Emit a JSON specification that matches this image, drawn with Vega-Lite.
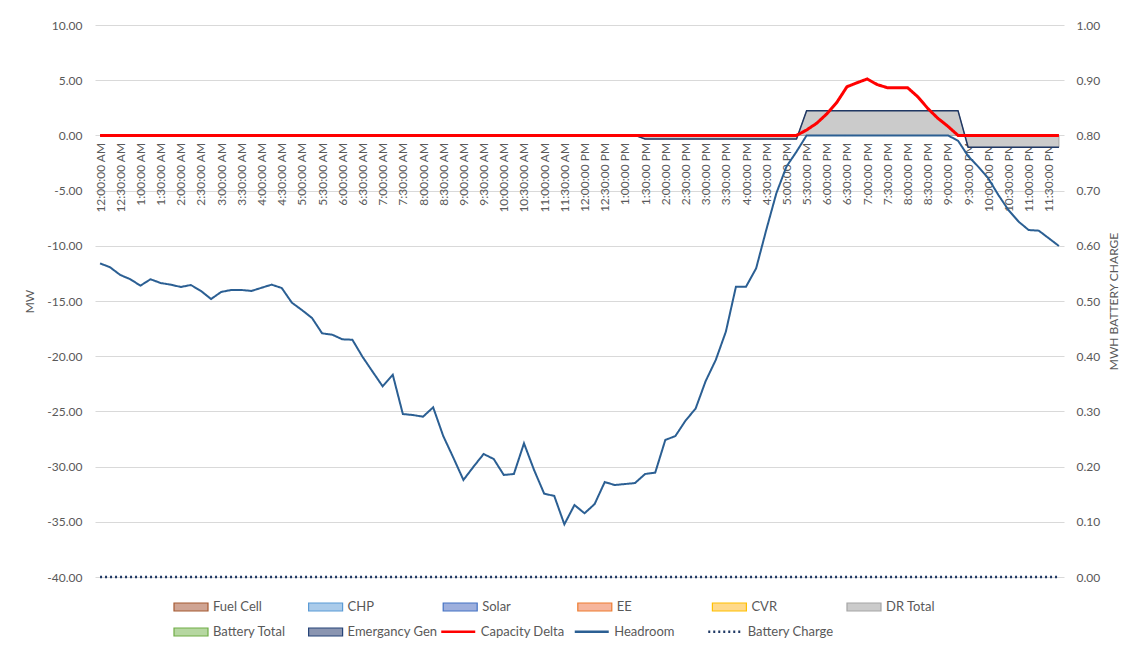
{
"$schema":"https://vega.github.io/schema/vega-lite/v6.json",
"width":969,"height":552,
"autosize":{"type":"none"},
"padding":{"left":95,"top":25,"right":69,"bottom":69},
"background":"#ffffff",
"config":{
 "font":"Lato",
 "locale":{"number":{"decimal":".","thousands":",","grouping":[3],"currency":["$",""],"minus":"-"}},
 "view":{"stroke":null},
 "axis":{"labelFont":"Lato","labelFontSize":12,"labelColor":"#595959","titleFont":"Lato","titleFontSize":12,"titleFontWeight":"normal","titleColor":"#595959","ticks":false,"domain":false},
 "legend":{"labelFont":"Lato","labelFontSize":13,"labelColor":"#595959","padding":0,"titlePadding":0}
},
"data":{"values":[
{"t":"12:00:00 AM","dr":0,"cd":0,"hr":-11.59,"bc":0},
{"t":"12:15:00 AM","dr":0,"cd":0,"hr":-11.95,"bc":0},
{"t":"12:30:00 AM","dr":0,"cd":0,"hr":-12.64,"bc":0},
{"t":"12:45:00 AM","dr":0,"cd":0,"hr":-13.03,"bc":0},
{"t":"1:00:00 AM","dr":0,"cd":0,"hr":-13.61,"bc":0},
{"t":"1:15:00 AM","dr":0,"cd":0,"hr":-13.03,"bc":0},
{"t":"1:30:00 AM","dr":0,"cd":0,"hr":-13.37,"bc":0},
{"t":"1:45:00 AM","dr":0,"cd":0,"hr":-13.52,"bc":0},
{"t":"2:00:00 AM","dr":0,"cd":0,"hr":-13.73,"bc":0},
{"t":"2:15:00 AM","dr":0,"cd":0,"hr":-13.55,"bc":0},
{"t":"2:30:00 AM","dr":0,"cd":0,"hr":-14.09,"bc":0},
{"t":"2:45:00 AM","dr":0,"cd":0,"hr":-14.82,"bc":0},
{"t":"3:00:00 AM","dr":0,"cd":0,"hr":-14.18,"bc":0},
{"t":"3:15:00 AM","dr":0,"cd":0,"hr":-14.00,"bc":0},
{"t":"3:30:00 AM","dr":0,"cd":0,"hr":-14.00,"bc":0},
{"t":"3:45:00 AM","dr":0,"cd":0,"hr":-14.09,"bc":0},
{"t":"4:00:00 AM","dr":0,"cd":0,"hr":-13.80,"bc":0},
{"t":"4:15:00 AM","dr":0,"cd":0,"hr":-13.52,"bc":0},
{"t":"4:30:00 AM","dr":0,"cd":0,"hr":-13.82,"bc":0},
{"t":"4:45:00 AM","dr":0,"cd":0,"hr":-15.15,"bc":0},
{"t":"5:00:00 AM","dr":0,"cd":0,"hr":-15.82,"bc":0},
{"t":"5:15:00 AM","dr":0,"cd":0,"hr":-16.54,"bc":0},
{"t":"5:30:00 AM","dr":0,"cd":0,"hr":-17.93,"bc":0},
{"t":"5:45:00 AM","dr":0,"cd":0,"hr":-18.05,"bc":0},
{"t":"6:00:00 AM","dr":0,"cd":0,"hr":-18.47,"bc":0},
{"t":"6:15:00 AM","dr":0,"cd":0,"hr":-18.51,"bc":0},
{"t":"6:30:00 AM","dr":0,"cd":0,"hr":-20.05,"bc":0},
{"t":"6:45:00 AM","dr":0,"cd":0,"hr":-21.40,"bc":0},
{"t":"7:00:00 AM","dr":0,"cd":0,"hr":-22.73,"bc":0},
{"t":"7:15:00 AM","dr":0,"cd":0,"hr":-21.68,"bc":0},
{"t":"7:30:00 AM","dr":0,"cd":0,"hr":-25.24,"bc":0},
{"t":"7:45:00 AM","dr":0,"cd":0,"hr":-25.33,"bc":0},
{"t":"8:00:00 AM","dr":0,"cd":0,"hr":-25.48,"bc":0},
{"t":"8:15:00 AM","dr":0,"cd":0,"hr":-24.63,"bc":0},
{"t":"8:30:00 AM","dr":0,"cd":0,"hr":-27.23,"bc":0},
{"t":"8:45:00 AM","dr":0,"cd":0,"hr":-29.19,"bc":0},
{"t":"9:00:00 AM","dr":0,"cd":0,"hr":-31.21,"bc":0},
{"t":"9:15:00 AM","dr":0,"cd":0,"hr":-30.01,"bc":0},
{"t":"9:30:00 AM","dr":0,"cd":0,"hr":-28.86,"bc":0},
{"t":"9:45:00 AM","dr":0,"cd":0,"hr":-29.31,"bc":0},
{"t":"10:00:00 AM","dr":0,"cd":0,"hr":-30.76,"bc":0},
{"t":"10:15:00 AM","dr":0,"cd":0,"hr":-30.67,"bc":0},
{"t":"10:30:00 AM","dr":0,"cd":0,"hr":-27.89,"bc":0},
{"t":"10:45:00 AM","dr":0,"cd":0,"hr":-30.31,"bc":0},
{"t":"11:00:00 AM","dr":0,"cd":0,"hr":-32.45,"bc":0},
{"t":"11:15:00 AM","dr":0,"cd":0,"hr":-32.66,"bc":0},
{"t":"11:30:00 AM","dr":0,"cd":0,"hr":-35.23,"bc":0},
{"t":"11:45:00 AM","dr":0,"cd":0,"hr":-33.48,"bc":0},
{"t":"12:00:00 PM","dr":0,"cd":0,"hr":-34.23,"bc":0},
{"t":"12:15:00 PM","dr":0,"cd":0,"hr":-33.39,"bc":0},
{"t":"12:30:00 PM","dr":0,"cd":0,"hr":-31.40,"bc":0},
{"t":"12:45:00 PM","dr":0,"cd":0,"hr":-31.67,"bc":0},
{"t":"1:00:00 PM","dr":0,"cd":0,"hr":-31.58,"bc":0},
{"t":"1:15:00 PM","dr":0,"cd":0,"hr":-31.49,"bc":0},
{"t":"1:30:00 PM","dr":-0.33,"cd":0,"hr":-30.67,"bc":0},
{"t":"1:45:00 PM","dr":-0.33,"cd":0,"hr":-30.55,"bc":0},
{"t":"2:00:00 PM","dr":-0.33,"cd":0,"hr":-27.59,"bc":0},
{"t":"2:15:00 PM","dr":-0.33,"cd":0,"hr":-27.23,"bc":0},
{"t":"2:30:00 PM","dr":-0.33,"cd":0,"hr":-25.84,"bc":0},
{"t":"2:45:00 PM","dr":-0.33,"cd":0,"hr":-24.75,"bc":0},
{"t":"3:00:00 PM","dr":-0.33,"cd":0,"hr":-22.25,"bc":0},
{"t":"3:15:00 PM","dr":-0.33,"cd":0,"hr":-20.34,"bc":0},
{"t":"3:30:00 PM","dr":-0.33,"cd":0,"hr":-17.78,"bc":0},
{"t":"3:45:00 PM","dr":-0.33,"cd":0,"hr":-13.70,"bc":0},
{"t":"4:00:00 PM","dr":-0.33,"cd":0,"hr":-13.70,"bc":0},
{"t":"4:15:00 PM","dr":-0.33,"cd":0,"hr":-12.04,"bc":0},
{"t":"4:30:00 PM","dr":-0.33,"cd":0,"hr":-8.57,"bc":0},
{"t":"4:45:00 PM","dr":-0.33,"cd":0,"hr":-5.25,"bc":0},
{"t":"5:00:00 PM","dr":-0.33,"cd":0,"hr":-2.83,"bc":0},
{"t":"5:15:00 PM","dr":-0.33,"cd":0,"hr":-1.47,"bc":0},
{"t":"5:30:00 PM","dr":2.24,"cd":0.49,"hr":0,"bc":0},
{"t":"5:45:00 PM","dr":2.24,"cd":1.10,"hr":0,"bc":0},
{"t":"6:00:00 PM","dr":2.24,"cd":1.95,"hr":0,"bc":0},
{"t":"6:15:00 PM","dr":2.24,"cd":3.00,"hr":0,"bc":0},
{"t":"6:30:00 PM","dr":2.24,"cd":4.41,"hr":0,"bc":0},
{"t":"6:45:00 PM","dr":2.24,"cd":4.77,"hr":0,"bc":0},
{"t":"7:00:00 PM","dr":2.24,"cd":5.11,"hr":0,"bc":0},
{"t":"7:15:00 PM","dr":2.24,"cd":4.60,"hr":0,"bc":0},
{"t":"7:30:00 PM","dr":2.24,"cd":4.32,"hr":0,"bc":0},
{"t":"7:45:00 PM","dr":2.24,"cd":4.32,"hr":0,"bc":0},
{"t":"8:00:00 PM","dr":2.24,"cd":4.32,"hr":0,"bc":0},
{"t":"8:15:00 PM","dr":2.24,"cd":3.51,"hr":0,"bc":0},
{"t":"8:30:00 PM","dr":2.24,"cd":2.45,"hr":0,"bc":0},
{"t":"8:45:00 PM","dr":2.24,"cd":1.55,"hr":0,"bc":0},
{"t":"9:00:00 PM","dr":2.24,"cd":0.82,"hr":0,"bc":0},
{"t":"9:15:00 PM","dr":2.24,"cd":0,"hr":-0.48,"bc":0},
{"t":"9:30:00 PM","dr":-1.08,"cd":0,"hr":-1.87,"bc":0},
{"t":"9:45:00 PM","dr":-1.08,"cd":0,"hr":-2.83,"bc":0},
{"t":"10:00:00 PM","dr":-1.08,"cd":0,"hr":-3.89,"bc":0},
{"t":"10:15:00 PM","dr":-1.08,"cd":0,"hr":-5.40,"bc":0},
{"t":"10:30:00 PM","dr":-1.08,"cd":0,"hr":-6.76,"bc":0},
{"t":"10:45:00 PM","dr":-1.08,"cd":0,"hr":-7.81,"bc":0},
{"t":"11:00:00 PM","dr":-1.08,"cd":0,"hr":-8.57,"bc":0},
{"t":"11:15:00 PM","dr":-1.08,"cd":0,"hr":-8.63,"bc":0},
{"t":"11:30:00 PM","dr":-1.08,"cd":0,"hr":-9.32,"bc":0},
{"t":"11:45:00 PM","dr":-1.08,"cd":0,"hr":-10.02,"bc":0}
]},
"encoding":{
 "x":{"field":"t","type":"ordinal","sort":null,"scale":{"type":"point","padding":0.5},
  "axis":{"title":null,"labelAngle":-90,"offset":-441.6,"labelPadding":7,"labelOverlap":false,"labelBound":false,"grid":false,
   "values":["12:00:00 AM","12:30:00 AM","1:00:00 AM","1:30:00 AM","2:00:00 AM","2:30:00 AM","3:00:00 AM","3:30:00 AM","4:00:00 AM","4:30:00 AM","5:00:00 AM","5:30:00 AM","6:00:00 AM","6:30:00 AM","7:00:00 AM","7:30:00 AM","8:00:00 AM","8:30:00 AM","9:00:00 AM","9:30:00 AM","10:00:00 AM","10:30:00 AM","11:00:00 AM","11:30:00 AM","12:00:00 PM","12:30:00 PM","1:00:00 PM","1:30:00 PM","2:00:00 PM","2:30:00 PM","3:00:00 PM","3:30:00 PM","4:00:00 PM","4:30:00 PM","5:00:00 PM","5:30:00 PM","6:00:00 PM","6:30:00 PM","7:00:00 PM","7:30:00 PM","8:00:00 PM","8:30:00 PM","9:00:00 PM","9:30:00 PM","10:00:00 PM","10:30:00 PM","11:00:00 PM","11:30:00 PM"]}}
},
"layer":[
 {"layer":[
  {"mark":{"type":"area","opacity":1,"strokeWidth":1},
   "encoding":{
    "y":{"field":"dr","type":"quantitative","title":"MW","scale":{"domain":[-40,10],"nice":false,"zero":false},
     "axis":{"orient":"left","values":[-40,-35,-30,-25,-20,-15,-10,-5,0,5,10],"format":".2f","grid":true,"gridColor":"#D9D9D9","labelPadding":13,"titlePadding":10}},
    "y2":{"datum":0},
    "fill":{"datum":"DR Total","type":"nominal",
     "scale":{"domain":["Fuel Cell","CHP","Solar","EE","CVR","DR Total","Battery Total","Emergancy Gen"],"range":["#CFA493","#AACBEA","#9DAFDD","#F6B59C","#FFD98A","#CBCBCB","#B6D7A1","#8A95B1"]},
     "legend":{"orient":"none","direction":"horizontal","legendX":78,"legendY":564,"columns":6,"title":null,"symbolType":"M-1,-0.235H1V0.235H-1Z","symbolSize":1156,"symbolStrokeWidth":1.2,"columnPadding":2.6,"rowPadding":-0.5,"gridAlign":"all","labelOffset":4}},
    "stroke":{"datum":"DR Total","type":"nominal",
     "scale":{"domain":["Fuel Cell","CHP","Solar","EE","CVR","DR Total","Battery Total","Emergancy Gen"],"range":["#A65A33","#5B9BD5","#4472C4","#ED7D31","#FFC000","#A5A5A5","#70AD47","#264478"]},
     "legend":{"orient":"none","direction":"horizontal","legendX":78,"legendY":564,"columns":6,"title":null,"symbolType":"M-1,-0.235H1V0.235H-1Z","symbolSize":1156,"symbolStrokeWidth":1.2,"columnPadding":2.6,"rowPadding":-0.5,"gridAlign":"all","labelOffset":4}}
   }},
  {"mark":{"type":"line","color":"#203864","strokeWidth":1.5},
   "encoding":{"y":{"field":"dr","type":"quantitative","title":"MW"}}},
  {"mark":{"type":"line","strokeWidth":3},
   "encoding":{"y":{"field":"cd","type":"quantitative","title":"MW"},
    "color":{"datum":"Capacity Delta","type":"nominal","scale":{"domain":["Capacity Delta","Headroom","Battery Charge"],"range":["#FF0000","#2B5F93","#1F3864"]},
     "legend":{"orient":"none","direction":"horizontal","legendX":344.75,"legendY":588,"columns":3,"title":null,"symbolType":"stroke","symbolSize":1156,"symbolStrokeWidth":2.5,"columnPadding":2.5,"gridAlign":"all","labelOffset":4}},
    "strokeDash":{"datum":"Capacity Delta","type":"nominal","scale":{"domain":["Capacity Delta","Headroom","Battery Charge"],"range":[[1,0],[1,0],[2,3]]},
     "legend":{"orient":"none","direction":"horizontal","legendX":344.75,"legendY":588,"columns":3,"title":null,"symbolType":"stroke","symbolSize":1156,"symbolStrokeWidth":2.5,"columnPadding":2.5,"gridAlign":"all","labelOffset":4}}}},
  {"mark":{"type":"line","strokeWidth":2},
   "encoding":{"y":{"field":"hr","type":"quantitative","title":"MW"},
    "color":{"datum":"Headroom","type":"nominal"},
    "strokeDash":{"datum":"Headroom","type":"nominal"}}}
 ]},
 {"mark":{"type":"line","strokeWidth":2.5},
  "encoding":{
   "y":{"field":"bc","type":"quantitative","title":"MWH BATTERY CHARGE","scale":{"domain":[0,1],"nice":false,"zero":false},
    "axis":{"orient":"right","values":[0,0.1,0.2,0.3,0.4,0.5,0.6,0.7,0.8,0.9,1],"format":".2f","grid":false,"labelPadding":12,"titleAngle":270,"titlePadding":21}},
   "color":{"datum":"Battery Charge","type":"nominal"},
   "strokeDash":{"datum":"Battery Charge","type":"nominal"}}}
],
"resolve":{"scale":{"y":"independent"}}
}
